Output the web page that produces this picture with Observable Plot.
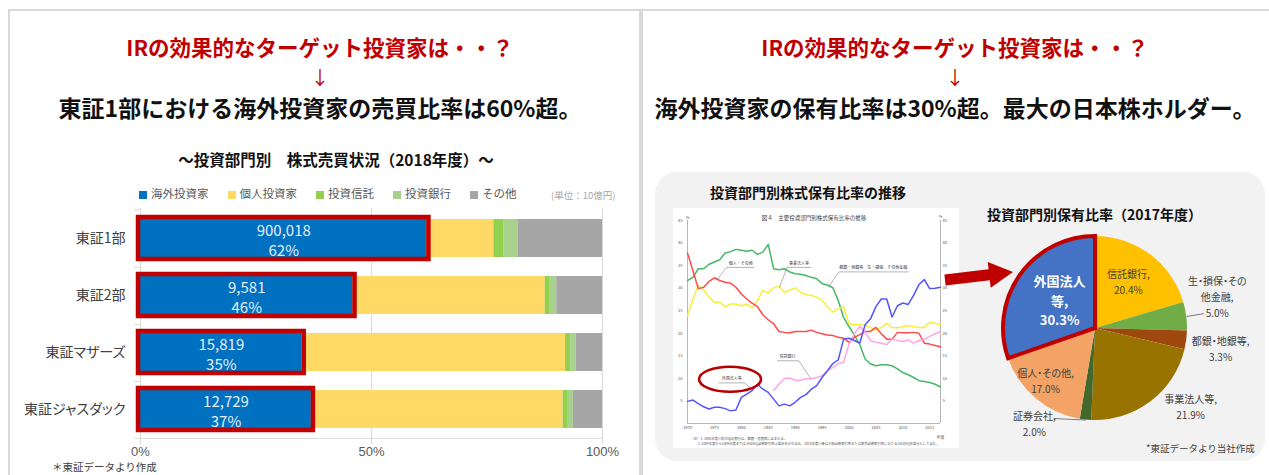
<!DOCTYPE html>
<html lang="ja">
<head>
<meta charset="utf-8">
<script src="https://cdn.jsdelivr.net/npm/d3@7"></script>
<script src="https://cdn.jsdelivr.net/npm/@observablehq/plot@0.6"></script>
<style>
html,body{margin:0;padding:0;}
body{width:1269px;height:475px;overflow:hidden;background:#fff;position:relative;font-family:"Noto Sans CJK JP","Noto Sans",sans-serif;}
.abs{position:absolute;}
.rule{position:absolute;background:#d9d9d9;}
.head{position:absolute;text-align:center;white-space:nowrap;line-height:1;font-weight:700;}
.legend{position:absolute;display:flex;gap:19px;font-size:11.5px;line-height:14px;color:#595959;white-space:nowrap;}
.legend span.sw{display:inline-block;width:8px;height:8px;margin-right:4px;vertical-align:-0.5px;}
</style>
</head>
<body>
<div class="rule" style="left:8px;top:9px;width:1261px;height:2px"></div>
<div class="rule" style="left:8px;top:9px;width:2px;height:466px"></div>
<div class="rule" style="left:639px;top:9px;width:4px;height:466px"></div>
<div class="abs" style="left:655px;top:172px;width:610px;height:289px;background:#f2f2f2;border-radius:22px"></div>

<div id="leftRed" class="head" style="left:0;width:640px;top:36px;font-size:21.5px;color:#c00000"></div>
<div class="head" style="left:0;width:640px;top:67px;font-size:19px;font-weight:400;color:#c00000">↓</div>
<div id="leftBlack" class="head" style="left:0;width:640px;top:96px;font-size:23px;color:#111"></div>
<div id="rightRed" class="head" style="left:643px;width:624px;top:36px;font-size:21.5px;color:#c00000"></div>
<div class="head" style="left:643px;width:624px;top:67px;font-size:19px;font-weight:400;color:#c00000">↓</div>
<div id="rightBlack" class="head" style="left:643px;width:624px;top:96px;font-size:23px;color:#111"></div>

<div id="barTitle" class="head" style="left:16px;width:640px;top:152px;font-size:15.5px;color:#111"></div>
<div id="legend" class="legend" style="left:139px;top:186px"></div>
<div id="unit" class="abs" style="left:551px;top:188px;font-size:9.5px;color:#a6a6a6;white-space:nowrap"></div>
<div id="bar" class="abs" style="left:0;top:195px;width:640px;height:270px"></div>
<div id="leftNote" class="abs" style="left:52px;top:462px;font-size:10.5px;line-height:1;color:#404040;white-space:nowrap"></div>

<div id="lineTitle" class="abs" style="left:710px;top:185px;font-size:14px;font-weight:700;color:#111;line-height:1;white-space:nowrap"></div>
<div id="line" class="abs" style="left:673px;top:208px;width:286px;height:240px"></div>
<div id="pieTitle" class="abs" style="left:987px;top:207px;font-size:14px;font-weight:700;color:#111;line-height:1;white-space:nowrap"></div>
<div id="pie" class="abs" style="left:960px;top:200px;width:300px;height:260px"></div>
<div id="pieNote" class="abs" style="left:1146px;top:441px;font-size:9.5px;color:#404040;white-space:nowrap"></div>

<svg class="abs" style="left:0;top:0;pointer-events:none" width="1269" height="475">
  <polygon points="944.4,274.5 988.6,269.3 987.7,261.9 1013,272 990.7,287.7 989.8,280.3 945.6,285.5" fill="#c00000"/>
</svg>

<script>
// ---------- texts ----------
const headlineQuestion = "IRの効果的なターゲット投資家は・・？";
const headlineLeft = "東証1部における海外投資家の売買比率は60%超。";
const headlineRight = "海外投資家の保有比率は30%超。最大の日本株ホルダー。";
const barChartTitle = "～投資部門別　株式売買状況（2018年度）～";
const barUnit = "(単位：10億円)";
const barNote = "＊東証データより作成";
const lineChartTitle = "投資部門別株式保有比率の推移";
const lineInnerTitle = "図４　主要投資部門別株式保有比率の推移";
const lineFootnotes = [
  "（注）1. 1985年度以前の信託銀行は、都銀・地銀等に含まれる。",
  "　　 2. 2004年度から2009年度まではJASDAQ証券取引所上場会社分を含み、2010年度以降は大阪証券取引所または東京証券取引所におけるJASDAQ市場分として含む。"
];
const pieChartTitle = "投資部門別保有比率（2017年度）";
const pieNote = "*東証データより当社作成";

// ---------- bar chart data ----------
const markets = ["東証1部", "東証2部", "東証マザーズ", "東証ジャスダック"];
const investorTypes = ["海外投資家", "個人投資家", "投資信託", "投資銀行", "その他"];
const investorColors = ["#0070c0", "#ffd966", "#92d050", "#a9d18e", "#a6a6a6"];
const shareForeign = [62, 46, 35, 37];
const shareIndividual = [14.5, 41.6, 57, 54.5];
const shareTrust = [2.1, 1.1, 1.1, 1.1];
const shareBank = [3.2, 1.4, 1.2, 1.1];
const shareOther = [18.2, 9.9, 5.7, 6.3];
const amountForeign = [900018, 9581, 15819, 12729];
const barTicks = [0, 50, 100];

// ---------- line chart data ----------
const years = d3.range(1970, 2018);
const trustYears = d3.range(1986, 2018);
const seriesNames = ["都銀・地銀等、生・損保、その他金融", "事業法人等", "個人・その他", "信託銀行", "外国法人等"];
const seriesColors = ["#46b866", "#f6f03a", "#ff4b4b", "#ffa6e6", "#5353ff"];
const holdFinance = [31.7,32.4,34.3,34.3,35.3,35.8,36.3,37.8,38.1,38.6, 38.4,38.2,38.4,37.5,38.0,39.7,34.3,34.1,34.3,33.6, 33.2,33.1,32.8,32.4,32.1,31.0,30.7,30.1,27.3,23.5, 21.5,19.6,17.5,14.3,13.2,12.8,13.0,13.0,12.8,12.1, 11.3,10.8,10.2,9.5,9.3,9.1,8.7,8.1];
const holdCorporate = [23.9,27.6,30.6,29.6,28.0,26.9,26.9,25.9,26.5,26.5, 26.1,26.5,25.6,27.3,29.5,28.9,30.1,30.4,29.1,29.6, 30.1,29.1,28.6,28.4,28.0,27.3,25.9,24.7,25.4,25.9, 22.1,21.9,21.9,21.7,21.3,20.7,21.3,22.2,21.3,21.2, 21.5,21.7,21.5,21.3,21.3,22.4,22.2,21.9];
const holdIndividual = [37.8,33.9,29.9,30.2,31.5,32.3,31.7,31.3,31.1,30.2, 28.7,27.6,26.7,25.9,24.1,23.0,22.1,20.4,20.2,20.1, 20.4,20.4,20.4,20.7,20.2,19.9,19.6,19.5,19.1,18.9, 18.0,19.1,19.7,20.4,20.4,21.3,19.9,18.7,18.7,20.2, 20.1,20.1,20.2,20.0,17.8,17.6,17.3,17.0];
const holdTrust = [7.3,8.7,9.9,10.1,9.6,9.6,9.9,9.9,10.2,10.6, 11.7,12.4,13.3,13.6,17.6,19.9,21.5,20.2,18.4,18.0, 17.8,17.5,18.7,18.4,18.2,18.5,17.8,18.4,18.7,19.3, 19.9,20.4];
const holdForeign = [4.9,5.2,4.4,3.7,3.2,3.6,3.6,3.3,2.8,3.0, 5.8,6.5,7.3,8.7,7.6,6.9,5.4,3.9,4.3,3.9, 4.7,5.8,6.4,7.6,8.4,10.2,11.7,13.3,14.1,18.7, 18.9,18.4,17.8,21.9,23.2,25.9,27.6,27.6,23.6,26.1, 26.7,26.4,28.4,30.8,31.9,29.9,30.0,30.2];
const lineYTicks = [5, 10, 15, 20, 25, 30, 35, 40, 45];
const lineXTicks = [1970, 1975, 1980, 1985, 1990, 1995, 2000, 2005, 2010, 2015];
const lineNotes = [
  {label: "個人・その他", tx: 1979.9, ty: 35.5, path: [[1975.5, 31.9], [1977.3, 34.6], [1982.3, 34.6]]},
  {label: "事業法人等", tx: 1990.7, ty: 35.5, path: [[1987.1, 30.2], [1988.5, 34.6], [1992.9, 34.6]]},
  {label: "都銀・地銀等、生・損保、その他金融", tx: 2004.5, ty: 34.5, path: [[1996.3, 30.4], [1998.1, 33.6], [2011, 33.6]]},
  {label: "信託銀行", tx: 1988.6, ty: 14.8, path: [[1992.8, 10.1], [1990.7, 13.9], [1986.7, 13.9]]},
  {label: "外国法人等", tx: 1978.2, ty: 9.9, path: [[1981.9, 7.7], [1980.6, 9.0], [1975.8, 9.0]]}
];
const foreignHighlight = {year: 1978, value: 9.7};

// ---------- pie data ----------
const pieNames = ["信託銀行", "生・損保・その他金融", "都銀・地銀等", "事業法人等", "証券会社", "個人・その他", "外国法人等"];
const pieValues = [20.4, 5.0, 3.3, 21.9, 2.0, 17.0, 30.3];
const pieColors = ["#ffc000", "#70ad47", "#9e480e", "#997300", "#43682b", "#f4a366", "#4472c4"];
const pieWrapped = ["信託銀行,", "生・損保・その\n他金融,", "都銀・地銀等,", "事業法人等,", "証券会社,", "個人・その他,", "外国法人\n等,"];
const pieLabelAt = [{a: 34.5, d: 0.63}, {a: 75, d: 1.37}, {a: 98.7, d: 1.375}, {a: 129, d: 1.33}, {a: 213, d: 1.22}, {a: 224.4, d: 0.776}, {a: 309, d: 0.502}];
const pieLeaders = [{i: 1, a: 82.2, d: 1.19}, {i: 4, a: 205, d: 1.08}];
const highlightSlice = 6;

// ---------- headings ----------
const FONT = '"Noto Sans CJK JP","Noto Sans",sans-serif';
document.getElementById("leftRed").textContent = headlineQuestion;
document.getElementById("rightRed").textContent = headlineQuestion;
document.getElementById("leftBlack").textContent = headlineLeft;
document.getElementById("rightBlack").textContent = headlineRight;
document.getElementById("barTitle").textContent = barChartTitle;
document.getElementById("unit").textContent = barUnit;
document.getElementById("leftNote").textContent = barNote;
document.getElementById("lineTitle").textContent = lineChartTitle;
document.getElementById("pieTitle").textContent = pieChartTitle;
document.getElementById("pieNote").textContent = pieNote;

const legend = document.getElementById("legend");
investorTypes.forEach((t, i) => {
  const item = document.createElement("div");
  const sw = document.createElement("span");
  sw.className = "sw"; sw.style.background = investorColors[i];
  item.appendChild(sw);
  item.appendChild(document.createTextNode(t));
  legend.appendChild(item);
});

// ---------- bar chart ----------
const shareByType = [shareForeign, shareIndividual, shareTrust, shareBank, shareOther];
const barRows = markets.flatMap((m, i) => investorTypes.map((t, j) => ({market: m, type: t, value: shareByType[j][i]})));
const foreignRows = markets.map((m, i) => ({market: m, value: shareForeign[i], amount: amountForeign[i]}));
const BAR_H = 270, BAR_MT = 13, BAR_MB = 26;
const step = (BAR_H - BAR_MT - BAR_MB) / markets.length;
const fmt = d3.format(",");

const bar = Plot.plot({
  width: 640, height: BAR_H, marginTop: BAR_MT, marginBottom: BAR_MB, marginLeft: 140, marginRight: 38,
  x: {domain: [0, 100], label: null},
  y: {domain: markets, paddingInner: 0.33, paddingOuter: 0.165, label: null},
  color: {domain: investorTypes, range: investorColors},
  style: `font-family:${FONT};font-feature-settings:'palt';background:transparent;overflow:visible;`,
  marks: [
    Plot.ruleX(barTicks, {stroke: "#d9d9d9"}),
    Plot.ruleY(markets, {y: d => d, dy: step / 2, x1: -1.3, x2: 0, stroke: "#d9d9d9"}),
    Plot.ruleY([markets[0]], {y: d => d, dy: -step / 2, x1: -1.3, x2: 0, stroke: "#d9d9d9"}),
    Plot.ruleY([markets[markets.length - 1]], {y: d => d, dy: step / 2, x1: 0, x2: 100, stroke: "#d9d9d9"}),
    Plot.barX(barRows, Plot.stackX({x: "value", y: "market", fill: "type", order: investorTypes})),
    Plot.barX(foreignRows, {x1: 0, x2: "value", y: "market", fill: "none", stroke: "#c00000", strokeWidth: 4.5, inset: -2}),
    Plot.text(foreignRows, {x: d => d.value / 2, y: "market", text: d => `${fmt(d.amount)}\n${d.value}%`, fill: "#e6eef8", fontSize: 15, lineHeight: 1.35, dy: 1}),
    Plot.axisY({tickSize: 0, tickPadding: 15, fontSize: 14, fill: "#404040", label: null}),
    Plot.axisX({ticks: barTicks, tickFormat: d => d + "%", tickSize: 5, tickPadding: 2, stroke: "#d9d9d9", fill: "#595959", fontSize: 13, fontFamily: '"Liberation Sans",Arial,sans-serif', label: null})
  ]
});
document.getElementById("bar").appendChild(bar);

// ---------- line chart ----------
const lineSeries = [
  {name: seriesNames[0], xs: years, values: holdFinance},
  {name: seriesNames[1], xs: years, values: holdCorporate},
  {name: seriesNames[2], xs: years, values: holdIndividual},
  {name: seriesNames[3], xs: trustYears, values: holdTrust},
  {name: seriesNames[4], xs: years, values: holdForeign}
];
const lineRows = lineSeries.flatMap(s => s.values.map((v, i) => ({series: s.name, year: s.xs[i], value: v})));
const notePathRows = lineNotes.flatMap((n, k) => n.path.map(([x, y]) => ({id: k, x, y})));
const axisText = {tickSize: 0, fontSize: 4, fill: "#555", label: null};

const line = Plot.plot({
  width: 286, height: 240, marginTop: 12, marginRight: 19, marginBottom: 25, marginLeft: 14,
  x: {domain: [1970, 2017], label: null},
  y: {domain: [0, 45], label: null},
  color: {domain: seriesNames, range: seriesColors},
  style: `font-family:${FONT};background:#fff;overflow:visible;`,
  marks: [
    Plot.ruleX([1970, 2017], {stroke: "#a6a6a6", strokeWidth: 0.8}),
    Plot.ruleY([0], {stroke: "#a6a6a6", strokeWidth: 0.8}),
    Plot.axisY({...axisText, anchor: "left", ticks: lineYTicks, tickPadding: 5}),
    Plot.axisY({...axisText, anchor: "right", ticks: lineYTicks, tickPadding: 2}),
    Plot.axisX({...axisText, ticks: lineXTicks, tickFormat: d => String(d), tickPadding: 3}),
    Plot.text([lineInnerTitle], {frameAnchor: "top", lineAnchor: "middle", dy: -2, fontSize: 5.5, fill: "#444"}),
    Plot.text(["%"], {x: 1970, y: 45, dy: -3, fontSize: 4, fill: "#555"}),
    Plot.text(["%"], {x: 2017, y: 45, dy: -4, fontSize: 4, fill: "#555"}),
    Plot.text(["年度"], {x: 2017, y: 0, dy: 14, fontSize: 4, fill: "#555"}),
    Plot.text([lineFootnotes[0]], {frameAnchor: "bottom-left", lineAnchor: "middle", textAnchor: "start", dx: 3, dy: 15, fontSize: 3.3, fill: "#555"}),
    Plot.text([lineFootnotes[1]], {frameAnchor: "bottom-left", lineAnchor: "middle", textAnchor: "start", dx: 3, dy: 20, fontSize: 3.3, fill: "#555"}),
    Plot.line(lineRows, {x: "year", y: "value", stroke: "series", z: "series", strokeWidth: 1.5}),
    Plot.line(notePathRows, {x: "x", y: "y", z: "id", stroke: "#808080", strokeWidth: 0.6}),
    Plot.text(lineNotes, {x: "tx", y: "ty", text: "label", fontSize: 4, fill: "#333"}),
    (index, scales) => {
      const e = document.createElementNS("http://www.w3.org/2000/svg", "ellipse");
      e.setAttribute("cx", scales.x(foreignHighlight.year));
      e.setAttribute("cy", scales.y(foreignHighlight.value));
      e.setAttribute("rx", 31); e.setAttribute("ry", 12.5);
      e.setAttribute("fill", "none"); e.setAttribute("stroke", "#b80000"); e.setAttribute("stroke-width", 2.6);
      return e;
    }
  ]
});
document.getElementById("line").appendChild(line);

// ---------- pie chart ----------
const pieSlices = pieNames.map((n, i) => ({name: n, value: pieValues[i], color: pieColors[i]}));
const pieArcs = d3.pie().sort(null).value(d => d.value)(pieSlices);
const rad = deg => deg * Math.PI / 180;
const midAngle = a => (a.startAngle + a.endAngle) / 2;
const pieLabels = pieArcs.map((a, i) => ({
  text: `${pieWrapped[i]}\n${pieValues[i].toFixed(1)}%`,
  x: pieLabelAt[i].d * Math.sin(rad(pieLabelAt[i].a)),
  y: pieLabelAt[i].d * Math.cos(rad(pieLabelAt[i].a)),
  hl: i === highlightSlice
}));
const leaderRows = pieLeaders.map(l => {
  const m = midAngle(pieArcs[l.i]);
  return {x1: Math.sin(m), y1: Math.cos(m), x2: l.d * Math.sin(rad(l.a)), y2: l.d * Math.cos(rad(l.a))};
});

const pie = Plot.plot({
  width: 300, height: 260, marginLeft: 43, marginRight: 73, marginTop: 36, marginBottom: 40,
  x: {domain: [-1, 1], axis: null},
  y: {domain: [-1, 1], axis: null},
  style: `font-family:${FONT};font-feature-settings:'palt';background:transparent;overflow:visible;`,
  marks: [
    (index, scales) => {
      const cx = scales.x(0), cy = scales.y(0), r = scales.x(1) - scales.x(0);
      const arc = d3.arc().innerRadius(0).outerRadius(r);
      const g = d3.create("svg:g").attr("transform", `translate(${cx},${cy})`);
      g.selectAll("path.s").data(pieArcs).join("path").attr("class", "s").attr("d", arc).attr("fill", d => d.data.color);
      g.append("path").attr("d", arc(pieArcs[highlightSlice])).attr("fill", "none")
        .attr("stroke", "#c00000").attr("stroke-width", 4).attr("stroke-linejoin", "miter");
      return g.node();
    },
    Plot.link(leaderRows, {x1: "x1", y1: "y1", x2: "x2", y2: "y2", stroke: "#595959", strokeWidth: 0.8}),
    Plot.text(pieLabels.filter(d => !d.hl), {x: "x", y: "y", text: "text", fontSize: 10, lineHeight: 1.6, fill: "#404040"}),
    Plot.text(pieLabels.filter(d => d.hl), {x: "x", y: "y", text: "text", fontSize: 13, fontWeight: "bold", lineHeight: 1.5, fill: "#ffffff"})
  ]
});
document.getElementById("pie").appendChild(pie);
</script>
</body>
</html>
